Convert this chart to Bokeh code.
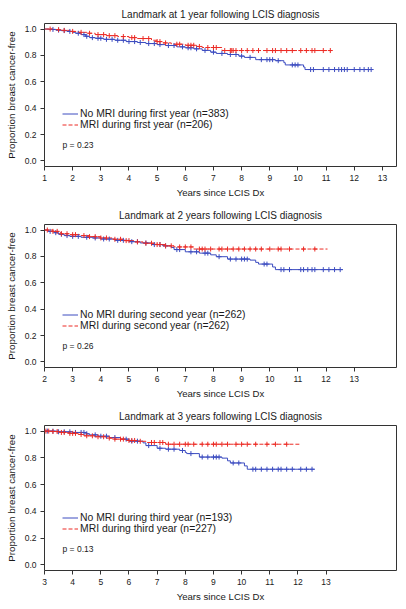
import numpy as np
from bokeh.plotting import figure
from bokeh.layouts import column
from bokeh.models import Range1d, FixedTicker, PrintfTickFormatter, Legend, LegendItem, Label
from bokeh.embed import file_html
from bokeh.resources import INLINE

# ---------------- data ----------------
titles = ["Landmark at 1 year following LCIS diagnosis",
          "Landmark at 2 years following LCIS diagnosis",
          "Landmark at 3 years following LCIS diagnosis"]
blue_labels = ["No MRI during first year (n=383)",
               "No MRI during second year (n=262)",
               "No MRI during third year (n=193)"]
red_labels = ["MRI during first year (n=206)",
              "MRI during second year (n=262)",
              "MRI during third year (n=227)"]
p_values = ["p = 0.23", "p = 0.26", "p = 0.13"]
x_starts = [1, 2, 3]
x_tick_labels = [list(range(1, 14)), list(range(2, 14)), list(range(3, 14))]
y_tick_labels = [0.0, 0.2, 0.4, 0.6, 0.8, 1.0]

# Panel 1
p1_blue_t = [1.0, 1.15, 1.4, 1.6, 1.8, 2.0, 2.1, 2.3, 2.45, 2.6, 2.8, 3.1, 3.5, 3.9, 4.3, 4.6,
             5.0, 5.3, 5.7, 6.0, 6.3, 6.6, 6.9, 7.1, 7.5, 7.9, 8.1, 8.5, 9.2, 9.5, 9.55, 10.2,
             10.25, 12.65]
p1_blue_s = [1.0, 0.997, 0.992, 0.988, 0.982, 0.975, 0.968, 0.958, 0.945, 0.935, 0.93, 0.922,
             0.915, 0.905, 0.898, 0.89, 0.882, 0.875, 0.865, 0.858, 0.85, 0.838, 0.825, 0.815,
             0.807, 0.795, 0.785, 0.768, 0.76, 0.745, 0.728, 0.712, 0.693, 0.693]
p1_blue_cens = [1.3, 1.5, 1.7, 1.9, 2.2, 2.4, 2.5, 2.7, 2.9, 3.0, 3.2, 3.4, 3.6, 3.8, 4.0, 4.2,
                4.4, 4.7, 4.9, 5.1, 5.4, 5.6, 5.9, 6.1, 6.2, 6.4, 6.7, 7.0, 7.3, 7.6, 7.8, 8.0,
                8.3, 8.7, 8.9, 9.0, 9.1, 9.3, 9.8, 9.9, 10.0, 10.45, 10.55, 10.9, 11.1, 11.3,
                11.45, 11.55, 11.65, 11.75, 12.0, 12.2, 12.35, 12.5, 12.6]
p1_red_t = [1.0, 1.3, 1.6, 1.9, 2.2, 2.5, 2.8, 3.2, 3.6, 4.0, 4.3, 4.8, 5.0, 5.2, 5.5, 6.0,
            6.4, 6.6, 7.3, 11.2]
p1_red_s = [1.0, 0.995, 0.99, 0.982, 0.975, 0.968, 0.958, 0.95, 0.943, 0.935, 0.928, 0.915,
            0.905, 0.895, 0.885, 0.877, 0.868, 0.86, 0.837, 0.837]
p1_red_cens = [1.2, 1.5, 1.7, 2.0, 2.3, 2.6, 2.9, 3.1, 3.3, 3.5, 3.8, 4.1, 4.2, 4.5, 4.7, 5.0,
               5.1, 5.3, 5.7, 5.8, 6.1, 6.2, 6.3, 6.5, 6.8, 7.0, 7.1, 7.4, 7.6, 7.65, 7.7, 7.8,
               8.0, 8.2, 8.4, 8.6, 8.9, 9.1, 9.2, 9.4, 9.6, 9.8, 10.1, 10.3, 10.5, 10.6, 10.9,
               11.15]

# Panel 2
p2_blue_t = [2.0, 2.15, 2.35, 2.5, 2.7, 2.9, 3.3, 3.7, 4.0, 4.5, 5.0, 5.4, 5.8, 6.2, 6.5, 6.6,
             7.0, 7.5, 7.9, 8.1, 8.5, 9.3, 9.5, 9.6, 10.1, 10.2, 12.6]
p2_blue_s = [1.0, 0.99, 0.98, 0.968, 0.958, 0.952, 0.945, 0.94, 0.932, 0.922, 0.912, 0.902,
             0.89, 0.88, 0.868, 0.852, 0.835, 0.825, 0.812, 0.798, 0.78, 0.772, 0.755, 0.742,
             0.72, 0.70, 0.70]
p2_blue_cens = [2.2, 2.4, 2.6, 2.8, 3.0, 3.2, 3.5, 3.8, 4.1, 4.3, 4.6, 4.8, 5.1, 5.3, 5.6, 5.9,
                6.1, 6.3, 6.7, 6.8, 7.2, 7.4, 7.7, 7.8, 8.2, 8.6, 8.8, 9.0, 9.1, 9.2, 9.8, 9.9,
                10.4, 10.5, 10.7, 11.1, 11.2, 11.35, 11.5, 11.6, 11.9, 12.1, 12.3, 12.5]
p2_red_t = [2.0, 2.3, 2.5, 2.6, 2.9, 3.3, 3.6, 4.0, 4.4, 4.8, 5.2, 5.5, 6.0, 6.3, 6.6, 7.3,
            12.05]
p2_red_s = [1.0, 0.99, 0.982, 0.972, 0.965, 0.958, 0.95, 0.94, 0.93, 0.92, 0.91, 0.9, 0.89,
            0.88, 0.872, 0.856, 0.856]
p2_red_cens = [2.1, 2.3, 2.45, 2.6, 2.8, 3.0, 3.1, 3.4, 3.6, 3.8, 4.0, 4.2, 4.5, 4.7, 4.9, 5.0,
               5.3, 5.6, 5.8, 6.0, 6.1, 6.3, 6.5, 6.8, 7.0, 7.2, 7.5, 7.6, 7.7, 7.9, 8.2, 8.3,
               8.5, 8.7, 8.9, 9.1, 9.3, 9.5, 9.7, 10.0, 10.3, 10.4, 10.7, 11.2, 11.6]

# Panel 3
p3_blue_t = [3.0, 3.5, 4.0, 4.5, 4.6, 4.9, 5.3, 5.7, 6.0, 6.5, 6.6, 7.0, 7.3, 7.8, 8.0, 8.05,
             8.5, 9.3, 9.5, 9.6, 10.1, 10.2, 12.6]
p3_blue_s = [1.0, 0.995, 0.99, 0.98, 0.972, 0.962, 0.952, 0.94, 0.925, 0.912, 0.892, 0.872,
             0.865, 0.855, 0.84, 0.832, 0.806, 0.798, 0.778, 0.762, 0.74, 0.715, 0.715]
p3_blue_cens = [3.1, 3.3, 3.5, 3.7, 3.9, 4.1, 4.3, 4.4, 4.5, 4.8, 5.0, 5.2, 5.5, 5.9, 6.1, 6.3,
                6.7, 7.1, 7.4, 7.6, 7.9, 8.2, 8.6, 8.8, 9.0, 9.1, 9.2, 9.7, 9.9, 10.4, 10.5,
                10.7, 10.9, 11.1, 11.3, 11.4, 11.6, 11.8, 12.1, 12.3, 12.5]
p3_red_t = [3.0, 3.3, 3.6, 3.9, 4.2, 4.4, 4.8, 5.2, 5.5, 5.9, 6.3, 6.6, 7.3, 12.05]
p3_red_s = [1.0, 0.997, 0.99, 0.983, 0.975, 0.965, 0.958, 0.948, 0.94, 0.93, 0.924, 0.915,
            0.902, 0.902]
p3_red_cens = [3.05, 3.15, 3.3, 3.45, 3.6, 3.7, 3.9, 4.0, 4.1, 4.3, 4.5, 4.7, 4.9, 5.1, 5.3,
               5.5, 5.7, 5.8, 6.0, 6.1, 6.2, 6.4, 6.8, 6.9, 7.1, 7.2, 7.4, 7.6, 7.8, 8.0, 8.1,
               8.3, 8.6, 8.8, 9.0, 9.1, 9.3, 9.5, 9.8, 10.0, 10.2, 10.5, 10.9, 11.2, 11.6]

blue_t = [p1_blue_t, p2_blue_t, p3_blue_t]
blue_s = [p1_blue_s, p2_blue_s, p3_blue_s]
blue_c = [p1_blue_cens, p2_blue_cens, p3_blue_cens]
red_t = [p1_red_t, p2_red_t, p3_red_t]
red_s = [p1_red_s, p2_red_s, p3_red_s]
red_c = [p1_red_cens, p2_red_cens, p3_red_cens]

# ---------------- styling ----------------
FONT = "Liberation Sans"
BLUE = "#3c4cc0"
RED = "#ec2b25"
TXT = "#1a1a1a"

heights = [200, 201, 208]
border_top = [23, 24, 24]
border_bottom = [33, 34, 39]


def km_at(t, s, c):
    t = np.asarray(t)
    s = np.asarray(s)
    idx = np.searchsorted(t, np.asarray(c), side="right") - 1
    return s[idx]


def make_panel(i):
    x0 = x_starts[i]
    p = figure(width=406, height=heights[i], output_backend="svg", toolbar_location=None,
               x_range=Range1d(x0, x0 + 12.5), y_range=Range1d(-0.042, 1.042),
               min_border_left=44, min_border_right=10, min_border_top=border_top[i],
               min_border_bottom=border_bottom[i])
    p.title.text = titles[i]
    p.title.text_font = FONT
    p.title.text_font_size = "10px"
    p.title.text_font_style = "normal"
    p.title.text_color = TXT
    p.title.align = "center"
    p.title.standoff = 8
    p.title.offset = -4

    p.xgrid.visible = False
    p.ygrid.visible = False
    p.outline_line_color = "#333333"
    p.outline_line_width = 1
    p.background_fill_color = "white"
    p.border_fill_color = "white"

    for ax in (p.xaxis[0], p.yaxis[0]):
        ax.axis_line_color = None
        ax.major_tick_in = 0
        ax.major_tick_out = 4
        ax.major_tick_line_color = "#333333"
        ax.minor_tick_line_color = None
        ax.major_label_text_font = FONT
        ax.major_label_text_font_size = "8.5px"
        ax.major_label_text_color = TXT
        ax.axis_label_text_font = FONT
        ax.axis_label_text_font_style = "normal"
        ax.axis_label_text_color = TXT

    p.xaxis.ticker = FixedTicker(ticks=x_tick_labels[i])
    p.xaxis.axis_label = "Years since LCIS Dx"
    p.xaxis.axis_label_text_font_size = "9.6px"
    p.xaxis.major_label_standoff = 4
    p.xaxis.axis_label_standoff = 3

    p.yaxis.ticker = FixedTicker(ticks=y_tick_labels)
    p.yaxis.formatter = PrintfTickFormatter(format="%.1f")
    p.yaxis.axis_label = "Proportion breast cancer-free"
    p.yaxis.axis_label_text_font_size = "9.8px"
    p.yaxis.major_label_standoff = 4
    p.yaxis.axis_label_standoff = 5

    rb = p.step(blue_t[i], blue_s[i], mode="after", line_color=BLUE, line_width=1)
    rr = p.step(red_t[i], red_s[i], mode="after", line_color=RED, line_width=1,
                line_dash="4 2")
    p.scatter(blue_c[i], km_at(blue_t[i], blue_s[i], blue_c[i]), marker="cross", size=5,
              line_color=BLUE, line_width=1)
    p.scatter(red_c[i], km_at(red_t[i], red_s[i], red_c[i]), marker="cross", size=5,
              line_color=RED, line_width=1)

    leg = Legend(items=[LegendItem(label=blue_labels[i], renderers=[rb]),
                        LegendItem(label=red_labels[i], renderers=[rr])],
                 location=(18, 36), padding=0, margin=0, spacing=0,
                 label_height=9, glyph_height=9, glyph_width=16, label_standoff=2,
                 label_text_font=FONT, label_text_font_size="10.4px",
                 label_text_color=TXT, border_line_color=None,
                 background_fill_alpha=0)
    p.add_layout(leg, "center")

    p.add_layout(Label(x=18, y=17, x_units="screen", y_units="screen", text=p_values[i],
                       text_font=FONT, text_font_size="8.5px", text_color=TXT))
    return p


panels = [make_panel(i) for i in range(3)]
layout = column(*panels, spacing=0)
open("out.html", "w").write(file_html(layout, INLINE))
